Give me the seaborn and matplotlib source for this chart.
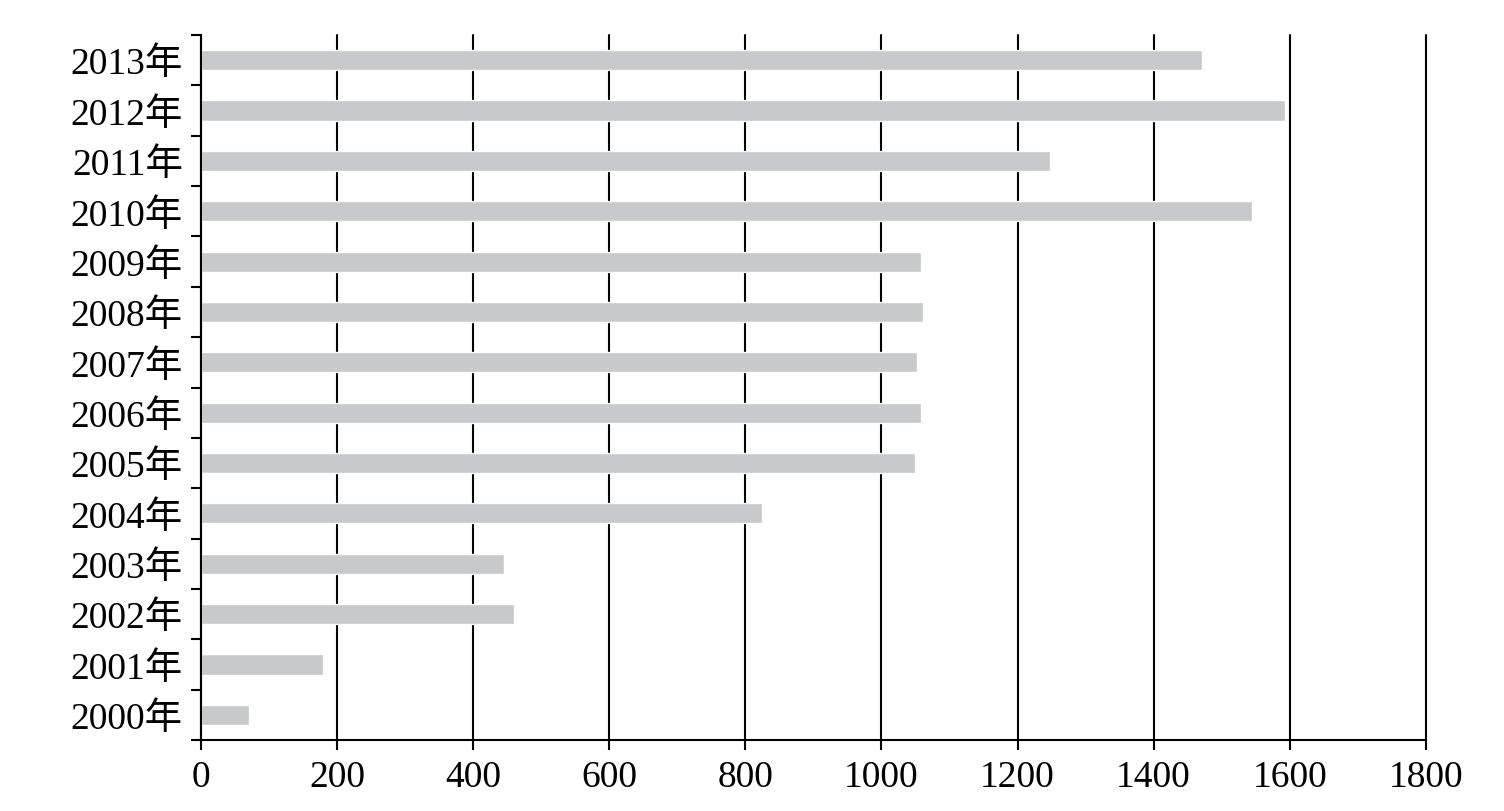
import numpy as np
import pandas as pd
import matplotlib
matplotlib.use("Agg")
import matplotlib.pyplot as plt
import seaborn as sns

# data
years = ["2000年", "2001年", "2002年", "2003年", "2004年", "2005年", "2006年",
         "2007年", "2008年", "2009年", "2010年", "2011年", "2012年", "2013年"]
values = [70, 180, 460, 446, 825, 1050, 1058, 1053, 1061, 1058, 1544, 1248, 1593, 1471]
x_ticks = [0, 200, 400, 600, 800, 1000, 1200, 1400, 1600, 1800]

df = pd.DataFrame({"year": years, "value": values})

sns.set_style("white")
plt.rcParams['font.family'] = ['Liberation Serif', 'Noto Sans CJK SC', 'DejaVu Sans']
plt.rcParams['text.color'] = 'black'
plt.rcParams['xtick.color'] = 'black'
plt.rcParams['ytick.color'] = 'black'

fig = plt.figure(figsize=(15.04, 8.12), dpi=100)
ax = fig.add_axes([0.1336, 0.0874, 0.948 - 0.1336, 0.9557 - 0.0874])

sns.barplot(data=df, x="value", y="year", order=years[::-1], color="#c8c9cb",
            saturation=1, width=0.4, orient="h", ax=ax)

ax.set_xlim(0, 1800)
ax.set_ylim(len(years) - 0.5, -0.5)
ax.set_xticks(x_ticks)
ax.set_xticklabels([str(t) for t in x_ticks])

# category boundary ticks, labels in the middle
ax.set_yticks(np.arange(-0.5, len(years), 1))
ax.set_yticklabels([])
ax.set_yticks(np.arange(len(years)), minor=True)
ax.set_yticklabels(years[::-1], minor=True)
ax.tick_params(axis="y", which="minor", left=True, length=0, pad=13, labelsize=27,
               labelcolor="black")
ax.tick_params(axis="y", which="major", left=True, length=7, width=1.5,
               color="black", direction="out")
ax.tick_params(axis="x", bottom=True, length=7, width=1.5, color="black",
               direction="out", pad=7, labelsize=27, labelcolor="black")

ax.set_axisbelow(True)
ax.grid(axis="x", color="black", linewidth=1.5)
ax.grid(axis="y", visible=False)
for gl in ax.get_xgridlines():
    gl.set_clip_on(False)

for s in ["top", "right"]:
    ax.spines[s].set_visible(False)
for s in ["left", "bottom"]:
    ax.spines[s].set_color("black")
    ax.spines[s].set_linewidth(1.5)

ax.set_xlabel("")
ax.set_ylabel("")

fig.savefig("out.png", dpi=100)
